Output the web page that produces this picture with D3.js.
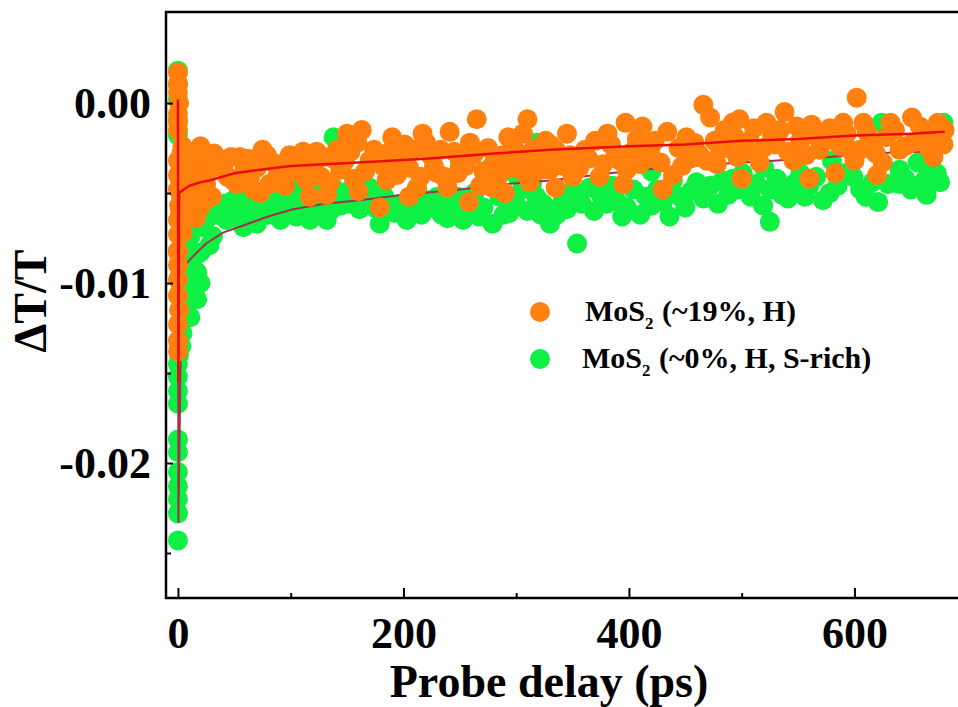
<!DOCTYPE html>
<html lang="en">
<head>
<meta charset="UTF-8">
<title>Probe delay transient transmission</title>
<script src="https://d3js.org/d3.v7.min.js"></script>
<style>
  body { margin: 0; background: #fff; }
  svg { display: block; }
  text { font-family: "Liberation Serif", "Times New Roman", serif; font-weight: bold; fill: #000; }
</style>
</head>
<body>
<svg width="958" height="707"></svg>
<script>
// MoS2 (~19%, H) -- delay (ps) and dT/T
const orangeT = [0,0,0,1,0,0,0, 0,0,0,1,0,0,0,0,0,0,1,0,0,0,
  4,8,2,11,13,2,4,0,6,15,20,13,9,7,
  37,55,75,84,99,111,123,138,150,159,44,67,73,88,117,132,114,49,28,59,95,144,
  163,190,217,241,265,259,293,310,306,179,185,212,230,239,268,279,312,318,170,197,224,250,281,299,201,326,
  345,330,381,397,412,434,451,466,472,485,492,350,374,398,439,469,330,361,388,419,454,481,339,410,370,
  498,522,538,562,578,590,602,608,632,651,674,679,496,516,546,583,625,670,652,507,530,552,569,596,614,640,663,680,600,534,
  3,10,16,18,5,12,3,22,25,8,
  32,40,47,52,62,64,70,79,81,91,104,107,120,127,129,135,141,147,153,156,
  166,174,182,188,194,205,209,215,220,227,233,236,245,248,255,262,271,275,284,288,296,302,308,315,322,328,
  335,342,348,356,364,377,384,392,403,407,415,423,428,444,447,458,462,476,478,488,494,
  503,511,519,527,541,549,557,565,573,587,593,605,611,619,628,636,645,658,666,676,
  160,205,258,290,335,395,430,500,560,620,30,20,16,18,22,25];
const orangeV = [0.0017,0.0011,0.0006,0,-0.0006,-0.0011,-0.0015,
  -0.0032,-0.004,-0.0048,-0.0057,-0.0065,-0.0073,-0.0082,-0.009,-0.0098,-0.0107,-0.0115,-0.0123,-0.0132,-0.0138,
  -0.0024,-0.0036,-0.0043,-0.0043,-0.005,-0.0061,-0.0072,-0.0083,-0.0032,-0.0029,-0.0024,-0.0028,-0.0054,-0.0062,
  -0.0032,-0.003,-0.0026,-0.0033,-0.0029,-0.0027,-0.0027,-0.0031,-0.0017,-0.0022,-0.0041,-0.0048,-0.005,-0.0041,-0.0052,-0.0051,-0.0043,-0.0043,-0.0037,-0.0037,-0.0046,-0.0037,
  -0.0015,-0.0019,-0.0017,-0.0016,-0.0009,-0.0022,-0.0019,-0.0009,-0.0017,-0.0058,-0.0043,-0.0047,-0.0039,-0.0047,-0.0046,-0.0047,-0.0044,-0.0033,-0.0032,-0.0032,-0.0029,-0.0032,-0.0032,-0.0026,-0.0023,-0.0021,
  -0.0017,-0.0023,-0.0017,-0.0011,-0.0013,-0.0016,-0.0019,-0.0001,-0.0008,-0.0015,-0.0011,-0.0041,-0.0041,-0.0037,-0.004,-0.0032,-0.0037,-0.0026,-0.0029,-0.0026,-0.0031,-0.0026,-0.0032,-0.0034,-0.0021,
  -0.0009,-0.0011,-0.0005,-0.0012,-0.0014,-0.0011,0.0003,-0.0011,-0.0011,-0.0008,-0.0011,-0.0023,-0.003,-0.0033,-0.0032,-0.0039,-0.0033,-0.003,-0.0022,-0.0021,-0.0023,-0.0021,-0.0026,-0.0026,-0.0021,-0.0026,-0.0018,-0.0015,-0.0032,-0.0015,
  -0.0028,-0.0035,-0.004,-0.0033,-0.0046,-0.0058,-0.0052,-0.0038,-0.0031,-0.0027,
  -0.0028,-0.0036,-0.003,-0.0045,-0.0031,-0.0041,-0.0036,-0.0029,-0.0045,-0.0034,-0.0038,-0.0031,-0.0035,-0.0041,-0.003,-0.0044,-0.0026,-0.0033,-0.0027,-0.0042,
  -0.0038,-0.0026,-0.0035,-0.0027,-0.004,-0.0036,-0.0026,-0.0041,-0.0022,-0.0035,-0.0026,-0.0041,-0.0027,-0.0039,-0.0035,-0.0029,-0.0038,-0.0025,-0.0041,-0.0029,-0.0036,-0.0031,-0.0039,-0.0026,-0.0037,-0.0029,
  -0.0026,-0.0035,-0.0029,-0.0036,-0.0031,-0.0034,-0.0023,-0.0032,-0.0027,-0.002,-0.0031,-0.0021,-0.0033,-0.0025,-0.0035,-0.0022,-0.0028,-0.0021,-0.0034,-0.0025,-0.0019,
  -0.0027,-0.0014,-0.0025,-0.0018,-0.0027,-0.0013,-0.0029,-0.0018,-0.0021,-0.0024,-0.0017,-0.0026,-0.0016,-0.0028,-0.0019,-0.0015,-0.0024,-0.0013,-0.0025,-0.0019,
  -0.0049,-0.0052,-0.0055,-0.005,-0.0047,-0.0045,-0.0048,-0.0042,-0.0042,-0.004,-0.0052,-0.0058,-0.0064,-0.0048,-0.0055,-0.0045];

// MoS2 (~0%, H, S-rich)
const greenT = [0,0,0,0,0, 1,0,0,0,0,0,0,0,0,0,0,0,
  20,17,11,4,6,15,11,20,17,13,22,31,2,4,
  46,66,84,99,102,88,117,126,58,120,138,153,161,40,49,61,70,91,105,132,138,148,77,108,144,
  188,159,170,179,203,197,221,239,253,244,271,279,294,318,318,277,226,212,
  330,336,341,354,394,410,436,479,324,365,380,404,425,439,460,483,496,327,
  525,541,578,621,664,673,624,679,496,525,560,599,616,640,501,552,656,
  250,300,350,420,520,580,640,
  8,12,25,28,35,9,7,3,14,
  43,52,55,63,68,74,80,86,95,97,111,114,123,129,135,141,150,156,
  165,174,183,192,207,216,230,234,248,258,263,267,285,289,299,305,310,314,322,
  345,350,358,369,375,385,390,398,415,420,430,445,450,455,466,472,488,492,
  508,513,519,531,536,546,556,566,572,585,590,605,610,630,645,650,662,668,676];
const greenV = [0.0018,0.001,0.0002,-0.0009,-0.0018,
  -0.014,-0.0145,-0.0152,-0.016,-0.0167,-0.0187,-0.0194,-0.0205,-0.0213,-0.022,-0.0228,-0.0243,
  -0.01,-0.0109,-0.0119,-0.0128,-0.009,-0.0085,-0.0074,-0.0083,-0.0094,-0.0106,-0.0069,-0.0074,-0.0105,-0.0117,
  -0.0058,-0.0058,-0.0048,-0.0054,-0.0048,-0.0063,-0.0065,-0.0061,-0.0069,-0.0044,-0.0047,-0.0048,-0.0059,-0.0056,-0.0054,-0.0058,-0.0067,-0.0065,-0.0063,-0.0065,-0.0019,-0.0032,-0.0051,-0.0057,-0.0057,
  -0.003,-0.0048,-0.0047,-0.0067,-0.0065,-0.0056,-0.0054,-0.0064,-0.0065,-0.0056,-0.0058,-0.0067,-0.0061,-0.0052,-0.0022,-0.0036,-0.0058,-0.0048,
  -0.0067,-0.0062,-0.0055,-0.0078,-0.0063,-0.0062,-0.0063,-0.0056,-0.0056,-0.0047,-0.0056,-0.0048,-0.0048,-0.0043,-0.0044,-0.0043,-0.0048,-0.0022,
  -0.0066,-0.0053,-0.005,-0.0055,-0.0051,-0.0039,-0.0011,-0.0011,-0.0044,-0.0048,-0.0046,-0.0041,-0.0044,-0.0037,-0.0039,-0.0039,-0.0033,
  -0.0035,-0.004,-0.0035,-0.0038,-0.0036,-0.0032,-0.0045,
  -0.0078,-0.0066,-0.0065,-0.0079,-0.0062,-0.0098,-0.0112,-0.0135,-0.0092,
  -0.0065,-0.0061,-0.0052,-0.0064,-0.0055,-0.006,-0.0062,-0.0056,-0.006,-0.0051,-0.006,-0.0053,-0.0056,-0.0052,-0.006,-0.0052,-0.0056,-0.0052,
  -0.0055,-0.0058,-0.0052,-0.0061,-0.0058,-0.0062,-0.0052,-0.0062,-0.0052,-0.0059,-0.005,-0.0063,-0.0052,-0.0062,-0.0055,-0.0048,-0.006,-0.0045,-0.0062,
  -0.0059,-0.0049,-0.0056,-0.006,-0.0051,-0.0046,-0.0055,-0.0058,-0.0052,-0.0057,-0.0055,-0.0052,-0.0058,-0.0049,-0.0053,-0.0046,-0.0051,-0.0042,
  -0.0052,-0.0045,-0.0057,-0.0042,-0.0051,-0.0045,-0.0052,-0.0041,-0.0054,-0.0046,-0.0039,-0.0048,-0.0052,-0.0045,-0.0042,-0.0048,-0.0043,-0.0036,-0.0044];

// fitted curves
const orangeFitT = [0,0.4,1,5,10,20,28,50,73,100,160,220,280,330,400,450,500,550,600,650,680];
const orangeFitV = [0.0002,-0.0155,-0.005,-0.0048,-0.0046,-0.0044,-0.0043,-0.0039,-0.0037,-0.0035,-0.0033,-0.0031,-0.0028,-0.0026,-0.0024,-0.0023,-0.0021,-0.002,-0.0018,-0.0017,-0.0016];
const greenFitT = [0,0.4,3.5,12,25,40,58,80,102,130,161,200,250,292,330,370,410,475,528,578,608,660];
const greenFitV = [0,-0.0233,-0.0092,-0.0086,-0.0078,-0.0072,-0.0068,-0.0063,-0.0059,-0.0056,-0.0054,-0.0051,-0.0048,-0.0045,-0.0043,-0.004,-0.0037,-0.0034,-0.0032,-0.003,-0.0028,-0.0027];

const xMajor = [0, 200, 400, 600];
const xMinor = [100, 300, 500];
const yMajor = [0, -0.01, -0.02];
const yMinor = [-0.005, -0.015, -0.025];
const seriesNames = ["MoS|2| (~19%, H)", "MoS|2| (~0%, H, S-rich)"];

const orangeC = "#ff800e", greenC = "#0ef043";
const redLine = "#ee0a0a", maroonLine = "#a3304f";

const svg = d3.select("svg");
const pLeft = 166, pTop = 12, pBottom = 598, pRight = 962;

const x = d3.scaleLinear().domain([-10.6, 695.4]).range([pLeft, pRight]);
const y = d3.scaleLinear().domain([-0.0275, 0.00506]).range([pBottom, pTop]);

svg.append("defs").append("clipPath").attr("id", "plot")
  .append("rect").attr("x", pLeft).attr("y", pTop)
  .attr("width", pRight - pLeft).attr("height", pBottom - pTop);

const plot = svg.append("g").attr("clip-path", "url(#plot)");
const toPts = (ts, vs) => ts.map((t, i) => ({t: t, v: vs[i]}));
const line = d3.line().x(d => x(d.t)).y(d => y(d.v));

plot.append("g").selectAll("circle")
  .data(toPts(greenT, greenV)).enter().append("circle")
  .attr("cx", d => x(d.t)).attr("cy", d => y(d.v)).attr("r", 10)
  .attr("fill", greenC);

plot.append("path").datum(toPts(greenFitT, greenFitV))
  .attr("d", line).attr("fill", "none")
  .attr("stroke", maroonLine).attr("stroke-width", 2);

plot.append("g").selectAll("circle")
  .data(toPts(orangeT, orangeV)).enter().append("circle")
  .attr("cx", d => x(d.t)).attr("cy", d => y(d.v)).attr("r", 10)
  .attr("fill", orangeC);

plot.append("path").datum(toPts(orangeFitT, orangeFitV))
  .attr("d", line).attr("fill", "none")
  .attr("stroke", redLine).attr("stroke-width", 2.5);

// axes, ticks inward
svg.append("g").attr("transform", `translate(0,${pBottom})`)
  .call(d3.axisBottom(x).tickValues(xMajor).tickSize(-10).tickPadding(19).tickFormat(d3.format("d")));
svg.append("g").attr("transform", `translate(0,${pBottom})`)
  .call(d3.axisBottom(x).tickValues(xMinor).tickSize(-5).tickFormat(""));
svg.append("g").attr("transform", `translate(${pLeft},0)`)
  .call(d3.axisLeft(y).tickValues(yMajor).tickSize(-7).tickPadding(15)
    .tickFormat(d => d === 0 ? "0.00" : d.toFixed(2)));
svg.append("g").attr("transform", `translate(${pLeft},0)`)
  .call(d3.axisLeft(y).tickValues(yMinor).tickSize(-5).tickFormat(""));

svg.selectAll(".domain").remove();
svg.selectAll(".tick line").attr("stroke", "#000").attr("stroke-width", 2);
svg.selectAll(".tick text").style("font-size", "44px")
  .style("font-family", "'Liberation Serif','Times New Roman',serif").style("font-weight", "bold");

// frame
svg.append("rect").attr("x", pLeft).attr("y", pTop)
  .attr("width", pRight - pLeft).attr("height", pBottom - pTop)
  .attr("fill", "none").attr("stroke", "#000").attr("stroke-width", 2.5);

// axis titles
svg.append("text").attr("x", 549).attr("y", 697)
  .attr("text-anchor", "middle").style("font-size", "46px")
  .text("Probe delay (ps)");
svg.append("text").attr("transform", "translate(46,301) rotate(-90)")
  .attr("text-anchor", "middle").style("font-size", "46px")
  .text("\u0394T/T");

// legend
const legendColors = [orangeC, greenC];
const legendTextX = [585, 582];
const lg = svg.append("g");
seriesNames.forEach((name, i) => {
  const cy = 312 + i * 47;
  lg.append("circle").attr("cx", 540).attr("cy", cy).attr("r", 10).attr("fill", legendColors[i]);
  const parts = name.split("|");
  const t = lg.append("text").attr("x", legendTextX[i]).attr("y", cy + 9).style("font-size", "30px");
  t.append("tspan").text(parts[0]);
  t.append("tspan").attr("dy", 8).style("font-size", "17px").text(parts[1]);
  t.append("tspan").attr("dy", -8).attr("dx", 1).text(parts[2]);
});
</script>
</body>
</html>
